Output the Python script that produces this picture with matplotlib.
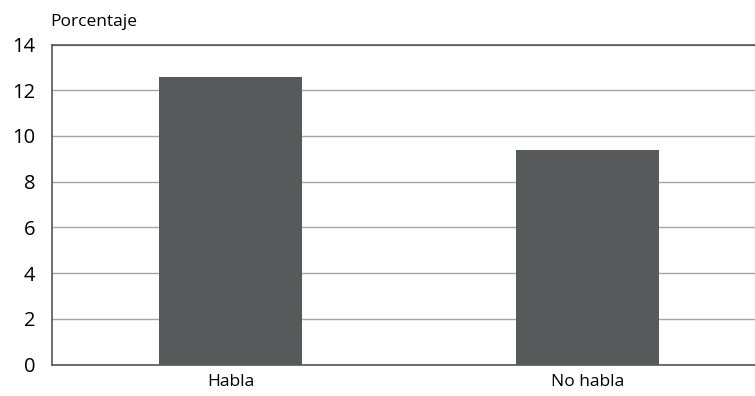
import matplotlib.pyplot as plt

categories = ["Habla", "No habla"]
values = [12.6, 9.4]
yticks = [0, 2, 4, 6, 8, 10, 12, 14]

plt.rcParams['font.family'] = ['Open Sans', 'DejaVu Sans']

fig = plt.figure(figsize=(7.55, 3.96), dpi=100)
ax = fig.add_axes([52 / 755, 31.5 / 396, 703 / 755, 320 / 396])

x = range(len(categories))
ax.bar(x, values, width=0.4, color='#58595b', zorder=3)

ax.set_xlim(-0.5, 1.469)
ax.set_ylim(0, 14)
ax.set_yticks(yticks)
ax.set_xticks(list(x))
ax.set_xticklabels(categories, fontsize=12.5)
ax.tick_params(axis='y', labelsize=14.5, length=0, pad=12)
ax.tick_params(axis='x', length=0, pad=7)

ax.grid(axis='y', color='#a6a6a6', linewidth=1.0, zorder=0)
for side in ['left', 'bottom', 'top']:
    ax.spines[side].set_color('#555555')
    ax.spines[side].set_linewidth(1.2)
ax.spines['right'].set_visible(False)

fig.text(50 / 755, 1 - 22 / 396, "Porcentaje", fontsize=12.5, ha='left', va='center')

fig.savefig('out.png', dpi=100)
